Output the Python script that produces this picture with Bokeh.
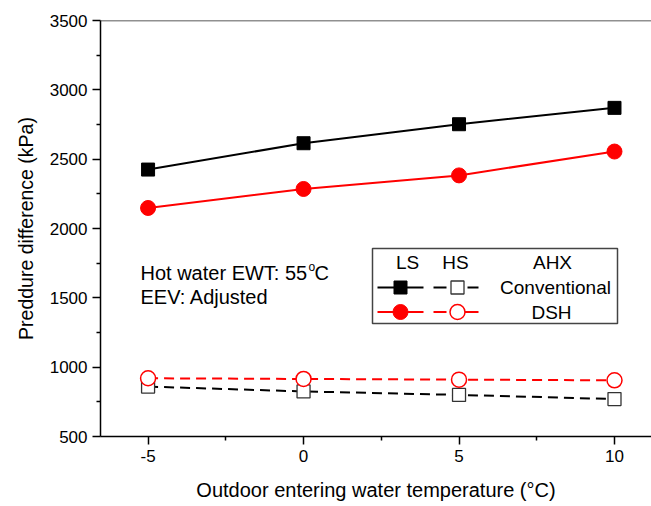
from bokeh.plotting import figure
from bokeh.models import FixedTicker, Span
from bokeh.core.properties import value
from bokeh.embed import file_html
from bokeh.resources import INLINE

# Outdoor entering water temperature (deg C)
temps = [-5, 0, 5, 10]

# Pressure difference (kPa): low side / high side, conventional / DSH AHX
ls_conventional = [2425, 2615, 2752, 2870]
ls_dsh = [2148, 2285, 2383, 2555]
hs_conventional = [860, 825, 800, 770]
hs_dsh = [920, 915, 910, 905]

x_ticks = [-5, 0, 5, 10]
x_minor = [-2.5, 2.5, 7.5]
y_ticks = [500, 1000, 1500, 2000, 2500, 3000, 3500]
y_minor = [750, 1250, 1750, 2250, 2750, 3250]

FONT = "Liberation Sans"
X0, X1 = -6.53, 11.19
Y0, Y1 = 500, 3500
W, H = 651, 506
LEFT, TOP, BOTTOM = 100, 20, 70
FW, FH = W - LEFT, H - TOP - BOTTOM


def dx(px):
    """canvas pixel column -> data x"""
    return X0 + (px - LEFT) * (X1 - X0) / FW


def dy(py):
    """canvas pixel row -> data y"""
    return Y1 - (py - TOP) * (Y1 - Y0) / FH


p = figure(width=W, height=H, x_range=(X0, X1), y_range=(Y0, Y1),
           output_backend="svg", toolbar_location=None,
           min_border_left=LEFT, min_border_right=0,
           min_border_top=TOP, min_border_bottom=BOTTOM)
p.outline_line_color = None
p.grid.visible = False
p.background_fill_color = "white"
p.border_fill_color = "white"

p.xaxis.ticker = FixedTicker(ticks=x_ticks, minor_ticks=x_minor)
p.yaxis.ticker = FixedTicker(ticks=y_ticks, minor_ticks=y_minor)
p.xaxis.major_label_overrides = {-5: "-5"}
for ax in (p.xaxis, p.yaxis):
    ax.axis_line_width = 1.5
    ax.axis_line_color = "black"
    ax.major_tick_line_width = 1.5
    ax.minor_tick_line_width = 1.5
    ax.major_tick_in = 0
    ax.major_tick_out = 8
    ax.minor_tick_in = 0
    ax.minor_tick_out = 4
    ax.major_label_text_font = FONT
    ax.major_label_text_font_size = "17px"
    ax.major_label_text_color = "black"
    ax.major_label_standoff = 5
    ax.axis_label_text_font = FONT
    ax.axis_label_text_font_size = "20px"
    ax.axis_label_text_font_style = "normal"
    ax.axis_label_text_color = "black"

p.yaxis.axis_label = "Preddure difference (kPa)"
p.yaxis.axis_label_text_font_size = "19.5px"
p.yaxis.axis_label_standoff = 10
p.xaxis.axis_label = "Outdoor entering water temperature (\u00b0C)"
p.xaxis.axis_label_standoff = 14

p.add_layout(Span(location=Y1, dimension="width", line_color="#222222", line_width=1.5))

# data series
p.line(temps, ls_conventional, line_color="black", line_width=2)
p.line(temps, ls_dsh, line_color="#ff0000", line_width=2)
p.line(temps, hs_conventional, line_color="black", line_width=2, line_dash="10 6")
p.line(temps, hs_dsh, line_color="#ff0000", line_width=2, line_dash="10 6")
p.scatter(temps, ls_conventional, marker="square", size=13, fill_color="black", line_color="black")
p.scatter(temps, ls_dsh, marker="circle", size=15, fill_color="#ff0000", line_color="#ff0000")
p.scatter(temps, hs_conventional, marker="square", size=13, fill_color="white",
          line_color="#333333", line_width=1.3)
p.scatter(temps, hs_dsh, marker="circle", size=15, fill_color="white",
          line_color="#ff0000", line_width=1.5)

# legend table
p.quad(left=[dx(372)], right=[dx(617)], top=[dy(248)], bottom=[dy(323)],
       fill_color="white", line_color="#444444", line_width=1.5)
txt = dict(text_font=value(FONT), text_font_size="19px", text_color="black",
           text_align="center", text_baseline="middle")
p.text(x=[dx(407), dx(455), dx(552)], y=[dy(262)] * 3, text=["LS", "HS", "AHX"], **txt)
p.text(x=[dx(555), dx(551)], y=[dy(287), dy(311.5)], text=["Conventional", "DSH"], **txt)

p.line([dx(377), dx(423)], [dy(287)] * 2, line_color="black", line_width=2)
p.scatter([dx(400)], [dy(287)], marker="square", size=13, fill_color="black", line_color="black")
p.segment(x0=[dx(433), dx(467)], y0=[dy(287)] * 2, x1=[dx(446), dx(478)], y1=[dy(287)] * 2,
          line_color="black", line_width=2)
p.scatter([dx(457)], [dy(287)], marker="square", size=13, fill_color="white",
          line_color="#333333", line_width=1.3)

p.line([dx(377), dx(423)], [dy(311.5)] * 2, line_color="#ff0000", line_width=2)
p.scatter([dx(400)], [dy(311.5)], marker="circle", size=15, fill_color="#ff0000", line_color="#ff0000")
p.segment(x0=[dx(433), dx(463)], y0=[dy(311.5)] * 2, x1=[dx(446), dx(478)], y1=[dy(311.5)] * 2,
          line_color="#ff0000", line_width=2)
p.scatter([dx(457)], [dy(311.5)], marker="circle", size=15, fill_color="white",
          line_color="#ff0000", line_width=1.5)

# operating conditions note
note = dict(text_font=value(FONT), text_font_size="20px", text_color="black",
            text_align="left", text_baseline="middle")
p.text(x=[dx(140)], y=[dy(272)], text=["Hot water EWT: 55"], **note)
p.text(x=[dx(308)], y=[dy(266)], text=["o"], **{**note, "text_font_size": "12px"})
p.text(x=[dx(314)], y=[dy(272)], text=["C"], **note)
p.text(x=[dx(140)], y=[dy(296)], text=["EEV: Adjusted"], **note)

open("out.html", "w").write(file_html(p, INLINE))
